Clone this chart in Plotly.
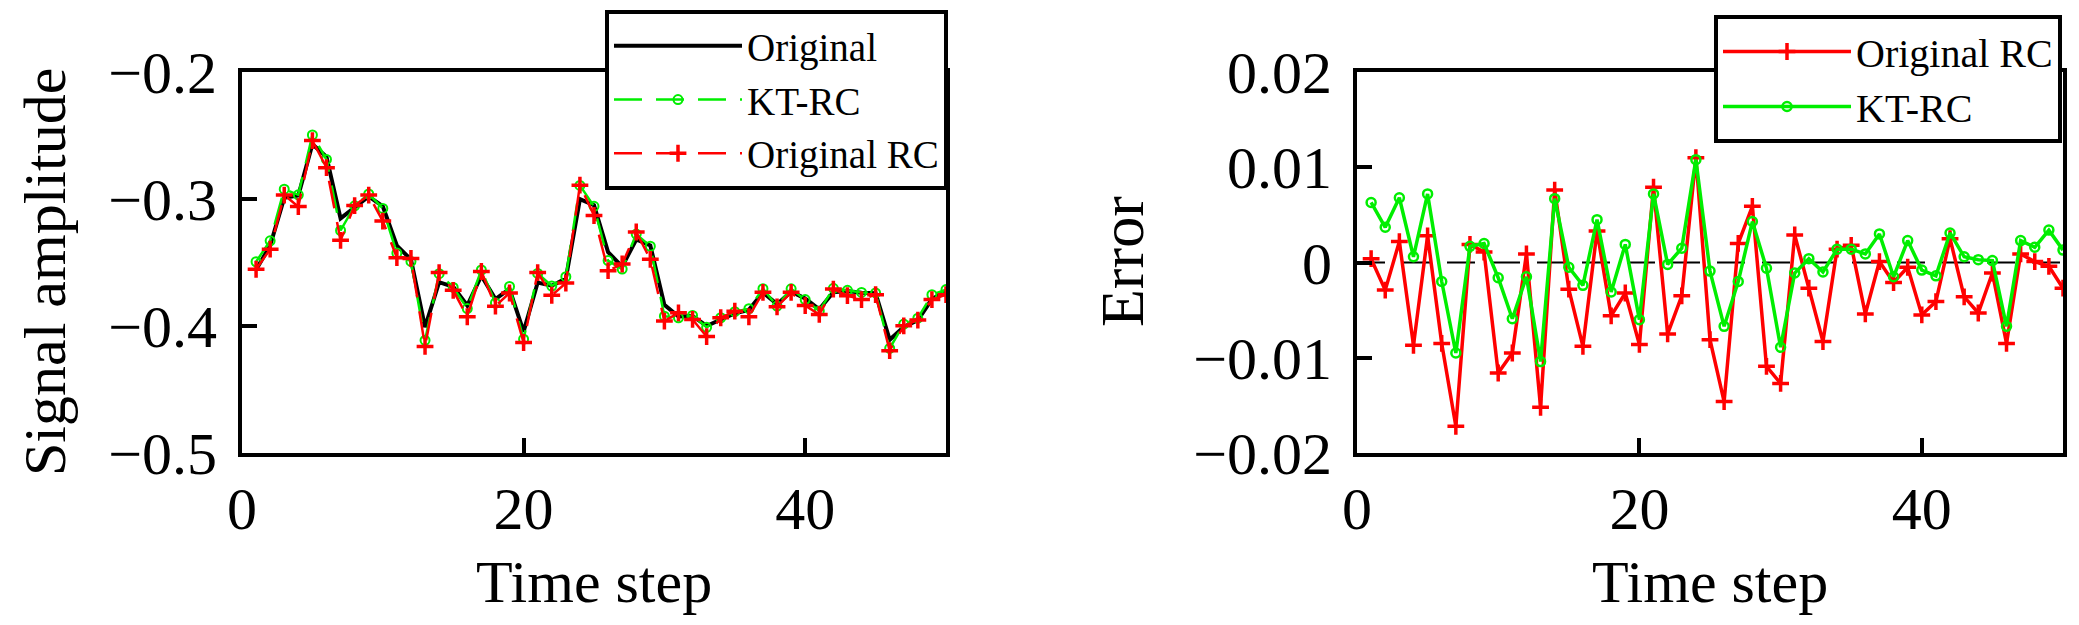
import plotly.graph_objects as go

time_step = list(range(1, 51))

original = [-0.3557, -0.3366, -0.2991, -0.2973, -0.2568, -0.2668, -0.3153, -0.3071, -0.2980, -0.3058,
            -0.3367, -0.3477, -0.4009, -0.3655, -0.3691, -0.3839, -0.3604, -0.3788, -0.3708, -0.4044,
            -0.3658, -0.3683, -0.3627, -0.3001, -0.3049, -0.3418, -0.3532, -0.3319, -0.3366, -0.3834,
            -0.3925, -0.3921, -0.4000, -0.3949, -0.3901, -0.3873, -0.3736, -0.3828, -0.3730, -0.3784,
            -0.3868, -0.3734, -0.3725, -0.3739, -0.3742, -0.4109, -0.4008, -0.3954, -0.3788, -0.3726]

kt_rc = [-0.3494, -0.3329, -0.2923, -0.2967, -0.2496, -0.2688, -0.3248, -0.3054, -0.2960, -0.3074,
         -0.3426, -0.3492, -0.4113, -0.3588, -0.3696, -0.3863, -0.3559, -0.3819, -0.3689, -0.4104,
         -0.3586, -0.3685, -0.3612, -0.2893, -0.3058, -0.3485, -0.3552, -0.3276, -0.3372, -0.3923,
         -0.3936, -0.3917, -0.4010, -0.3935, -0.3887, -0.3864, -0.3706, -0.3843, -0.3707, -0.3792,
         -0.3882, -0.3703, -0.3719, -0.3736, -0.3740, -0.4176, -0.3985, -0.3938, -0.3754, -0.3713]

original_rc = [-0.3553, -0.3395, -0.2969, -0.3060, -0.2540, -0.2753, -0.3325, -0.3052, -0.2969, -0.3174,
               -0.3462, -0.3468, -0.4161, -0.3579, -0.3719, -0.3927, -0.3571, -0.3844, -0.3740, -0.4130,
               -0.3579, -0.3758, -0.3662, -0.2891, -0.3130, -0.3564, -0.3512, -0.3260, -0.3475, -0.3961,
               -0.3896, -0.3948, -0.4083, -0.3935, -0.3883, -0.3927, -0.3735, -0.3849, -0.3735, -0.3839,
               -0.3909, -0.3709, -0.3761, -0.3792, -0.3753, -0.4194, -0.3999, -0.3953, -0.3792, -0.3753]

err_original_rc = [0.0004, -0.0029, 0.0022, -0.0087, 0.0028, -0.0085, -0.0172, 0.0019, 0.0011, -0.0116,
                   -0.0095, 0.0009, -0.0152, 0.0076, -0.0028, -0.0088, 0.0033, -0.0056, -0.0032, -0.0086,
                   0.0079, -0.0075, -0.0035, 0.0110, -0.0081, -0.0146, 0.0020, 0.0059, -0.0109, -0.0127,
                   0.0029, -0.0027, -0.0083, 0.0014, 0.0018, -0.0054, 0.0001, -0.0021, -0.0005, -0.0055,
                   -0.0041, 0.0025, -0.0036, -0.0053, -0.0011, -0.0085, 0.0009, 0.0001, -0.0004, -0.0027]

err_kt_rc = [0.0063, 0.0037, 0.0068, 0.0006, 0.0072, -0.0020, -0.0095, 0.0017, 0.0020, -0.0016,
             -0.0059, -0.0015, -0.0104, 0.0067, -0.0005, -0.0024, 0.0045, -0.0031, 0.0019, -0.0060,
             0.0072, -0.0002, 0.0015, 0.0108, -0.0009, -0.0067, -0.0020, 0.0043, -0.0006, -0.0089,
             -0.0011, 0.0004, -0.0010, 0.0014, 0.0014, 0.0009, 0.0030, -0.0015, 0.0023, -0.0008,
             -0.0014, 0.0031, 0.0006, 0.0003, 0.0002, -0.0067, 0.0023, 0.0016, 0.0034, 0.0013]

x_ticks = [0, 20, 40]
left_y_ticks = [-0.5, -0.4, -0.3, -0.2]
right_y_ticks = [-0.02, -0.01, 0, 0.01, 0.02]

# The page body adds an 8 px margin; size the figure so it fills the window exactly.
OFF = 8
W, H = 2079 - OFF, 625 - OFF


def px(X):
    return (X - OFF) / W


def py(Y):
    return 1 - (Y - OFF) / H


FONT = "Liberation Serif"
RED = "#ff0000"
GREEN = "#00ee00"

fig = go.Figure()

# Left panel
fig.add_trace(go.Scatter(x=time_step, y=original, mode="lines", name="Original",
                         line=dict(color="black", width=4), xaxis="x", yaxis="y", legend="legend"))
fig.add_trace(go.Scatter(x=time_step, y=kt_rc, mode="lines+markers", name="KT-RC",
                         line=dict(color=GREEN, width=2.5, dash="28px,14px"),
                         marker=dict(symbol="circle-open", size=9, color=GREEN, line=dict(width=2)),
                         xaxis="x", yaxis="y", legend="legend"))
fig.add_trace(go.Scatter(x=time_step, y=original_rc, mode="lines+markers", name="Original RC",
                         line=dict(color=RED, width=2.5, dash="28px,14px"),
                         marker=dict(symbol="cross-thin-open", size=12, color=RED, line=dict(width=3.5, color=RED)),
                         xaxis="x", yaxis="y", legend="legend"))

# Right panel
fig.add_trace(go.Scatter(x=time_step, y=err_original_rc, mode="lines+markers", name="Original RC",
                         line=dict(color=RED, width=3.5),
                         marker=dict(symbol="cross-thin-open", size=12, color=RED, line=dict(width=3.5, color=RED)),
                         xaxis="x2", yaxis="y2", legend="legend2"))
fig.add_trace(go.Scatter(x=time_step, y=err_kt_rc, mode="lines+markers", name="KT-RC",
                         line=dict(color=GREEN, width=3.5),
                         marker=dict(symbol="circle-open", size=9, color=GREEN, line=dict(width=2.5)),
                         xaxis="x2", yaxis="y2", legend="legend2"))

fig.add_hline(y=0, line=dict(color="black", width=2, dash="28px,17px"), xref="x2", yref="y2", layer="below")

y_dom = [py(453), py(72)]
axis_common = dict(showline=True, linewidth=4, linecolor="black", mirror=True,
                   ticks="inside", ticklen=15, tickwidth=4, tickcolor="black",
                   showgrid=False, zeroline=False, automargin=False,
                   tickfont=dict(family=FONT, size=60, color="black"))

legend_common = dict(bgcolor="white", bordercolor="black", borderwidth=4,
                     itemwidth=128, tracegroupgap=0)

fig.update_layout(
    template="none",
    width=W, height=H,
    margin=dict(l=0, r=0, t=0, b=0, pad=0, autoexpand=False),
    paper_bgcolor="white", plot_bgcolor="white",
    font=dict(family=FONT, color="black"),
    xaxis=dict(domain=[px(242), px(946)], range=[0, 50], tickvals=x_ticks,
               ticklabelstandoff=0, anchor="y", **axis_common),
    yaxis=dict(domain=y_dom, range=[-0.5, -0.2], tickvals=left_y_ticks,
               ticklabelstandoff=9, anchor="x", **axis_common),
    xaxis2=dict(domain=[px(1357), px(2063)], range=[0, 50], tickvals=x_ticks,
                ticklabelstandoff=0, anchor="y2", **axis_common),
    yaxis2=dict(domain=y_dom, range=[-0.02, 0.02], tickvals=right_y_ticks,
                ticklabelstandoff=9, anchor="x2", **axis_common),
    legend=dict(x=px(948), xanchor="right", y=py(10), yanchor="top",
                font=dict(family=FONT, size=39, color="black"), **legend_common),
    legend2=dict(x=px(2062), xanchor="right", y=py(15), yanchor="top",
                 font=dict(family=FONT, size=40, color="black"), **legend_common),
    showlegend=True,
)

annotations = [
    dict(text="Signal amplitude", x=px(45), y=py(272), xref="paper", yref="paper",
         textangle=-90, showarrow=False, xanchor="center", yanchor="middle",
         font=dict(family=FONT, size=60, color="black")),
    dict(text="Error", x=px(1122), y=py(262), xref="paper", yref="paper",
         textangle=-90, showarrow=False, xanchor="center", yanchor="middle",
         font=dict(family=FONT, size=62, color="black")),
    dict(text="Time step", x=px(594), y=py(582), xref="paper", yref="paper",
         showarrow=False, xanchor="center", yanchor="middle",
         font=dict(family=FONT, size=60, color="black")),
    dict(text="Time step", x=px(1710), y=py(582), xref="paper", yref="paper",
         showarrow=False, xanchor="center", yanchor="middle",
         font=dict(family=FONT, size=60, color="black")),
]
fig.update_layout(annotations=annotations)

fig.write_html("out.html")
